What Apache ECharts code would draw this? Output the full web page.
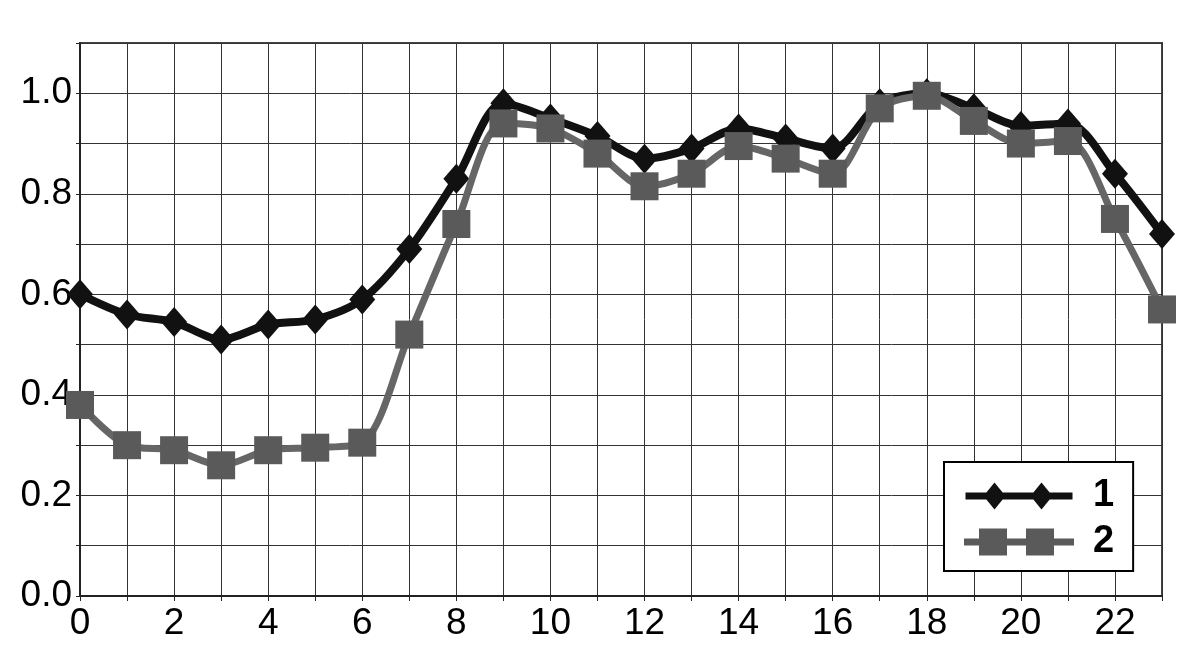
<!DOCTYPE html>
<html>
<head>
<meta charset="utf-8">
<script src="https://cdn.jsdelivr.net/npm/echarts@6/dist/echarts.min.js"></script>
<style>
html,body{margin:0;padding:0;background:#fff;}
#chart{width:1186px;height:659px;}
</style>
</head>
<body>
<div id="chart"></div>
<script>
var hours = [0,1,2,3,4,5,6,7,8,9,10,11,12,13,14,15,16,17,18,19,20,21,22,23];
var series1Name = '1';
var series2Name = '2';
var series1 = [0.60,0.56,0.545,0.51,0.54,0.55,0.59,0.69,0.83,0.98,0.95,0.915,0.87,0.89,0.93,0.91,0.89,0.98,1.0,0.97,0.935,0.94,0.84,0.72];
var series2 = [0.38,0.30,0.29,0.26,0.29,0.295,0.305,0.52,0.74,0.94,0.93,0.88,0.815,0.84,0.895,0.87,0.84,0.97,0.995,0.945,0.90,0.905,0.75,0.57];

function pairs(vals){ return hours.map(function(h,i){ return [h, vals[i]]; }); }

var font = '"Liberation Sans", Arial, sans-serif';
var icon1 = 'path://M0 10 L107 10 L107 17 L0 17 Z M29 0 L40 13.5 L29 27 L18 13.5 Z M76 0 L87 13.5 L76 27 L65 13.5 Z';
var icon2 = 'path://M0 10 L110 10 L110 17 L0 17 Z M15 0 L43 0 L43 27 L15 27 Z M62 0 L90 0 L90 27 L62 27 Z';

var chart = echarts.init(document.getElementById('chart'), null, {renderer:'canvas'});
chart.setOption({
  backgroundColor: '#fff',
  animation: false,
  grid: {left: 80, right: 24, top: 43, bottom: 63, show: true, borderColor: '#444', borderWidth: 2, backgroundColor: 'transparent'},
  xAxis: {
    type: 'value', min: 0, max: 23, interval: 1,
    axisLine: {show: true, lineStyle: {color: '#222', width: 2}},
    axisTick: {show: true, length: 5, lineStyle: {color: '#222'}},
    splitLine: {show: true, lineStyle: {color: '#333', width: 1}},
    axisLabel: {
      color: '#000', fontFamily: font, fontSize: 37, margin: 9,
      formatter: function(v){ return (v % 2 === 0) ? String(v) : ''; }
    }
  },
  yAxis: {
    type: 'value', min: 0, max: 1.1, interval: 0.1,
    axisLine: {show: true, lineStyle: {color: '#222', width: 2}},
    axisTick: {show: true, length: 4, lineStyle: {color: '#222'}},
    splitLine: {show: true, lineStyle: {color: '#333', width: 1}},
    axisLabel: {
      color: '#000', fontFamily: font, fontSize: 37, margin: 8,
      formatter: function(v){ var k = Math.round(v*10); return (k % 2 === 0 && k <= 10) ? v.toFixed(1) : ''; }
    }
  },
  legend: {
    orient: 'vertical', left: 944, top: 462,
    padding: [15, 19, 10, 20],
    itemGap: 8, itemWidth: 110, itemHeight: 27,
    borderColor: '#000', borderWidth: 2, backgroundColor: '#fff',
    textStyle: {fontFamily: font, fontSize: 38, fontWeight: 'bold', color: '#000', padding: [0,0,0,14], lineHeight: 36},
    data: [{name: series1Name, icon: icon1}, {name: series2Name, icon: icon2}]
  },
  series: [
    {
      name: series1Name, type: 'line', data: pairs(series1), smooth: 0.3,
      symbol: 'diamond', symbolSize: [26, 30], z: 2,
      lineStyle: {color: '#111', width: 8},
      itemStyle: {color: '#111'}
    },
    {
      name: series2Name, type: 'line', data: pairs(series2), smooth: 0.3,
      symbol: 'rect', symbolSize: 28, z: 3,
      lineStyle: {color: '#666', width: 7},
      itemStyle: {color: '#5a5a5a'}
    }
  ]
});
</script>
</body>
</html>
